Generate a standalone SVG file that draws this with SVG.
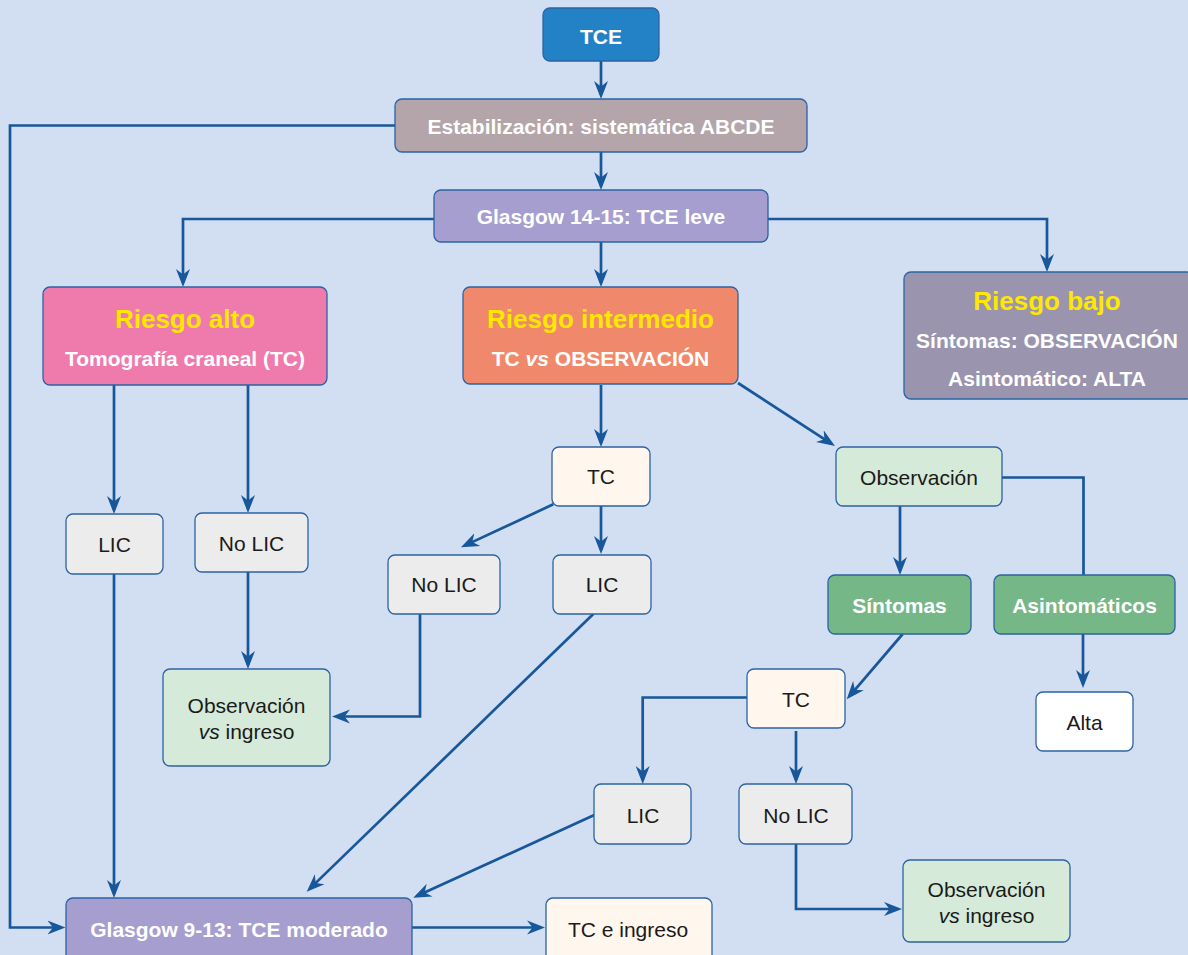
<svg xmlns="http://www.w3.org/2000/svg" width="1188" height="955" viewBox="0 0 1188 955">
<defs>
<marker id="ah" markerUnits="userSpaceOnUse" markerWidth="22" markerHeight="18" viewBox="0 -9 22 18" refX="14" refY="0" orient="auto">
<path d="M18,0 L0,-7 L5.5,0 L0,7 Z" fill="#17579A"/>
</marker>
<style>
.n { stroke:#2B63A4; stroke-width:1.3; }
.b { font-family:'Liberation Sans',Arial,sans-serif; font-weight:bold; font-size:21px; fill:#fff; text-anchor:middle; }
.r { font-family:'Liberation Sans',Arial,sans-serif; font-size:21px; fill:#1a1a1a; text-anchor:middle; }
.t { font-family:'Liberation Sans',Arial,sans-serif; font-weight:bold; font-size:26px; fill:#FFE800; text-anchor:middle; }
.s { font-family:'Liberation Sans',Arial,sans-serif; font-weight:bold; font-size:21px; fill:#fff; text-anchor:middle; }
.c { fill:none; stroke:#17579A; stroke-width:2.7; }
.a { marker-end:url(#ah); }
</style>
</defs>
<rect width="1188" height="955" fill="#D2DEF1"/>

<g id="connectors">
<path class="c a" d="M601,61 V95"/>
<path class="c a" d="M601,152 V186"/>
<path class="c a" d="M395,125.5 H10 V927.5 H61.5"/>
<path class="c a" d="M434,219 H183 V283"/>
<path class="c a" d="M601,242 V283"/>
<path class="c a" d="M768,219 H1047 V268"/>
<path class="c a" d="M114,385 V510"/>
<path class="c a" d="M248,385 V509"/>
<path class="c a" d="M114,574 V894"/>
<path class="c a" d="M248,572 V665"/>
<path class="c a" d="M601,385 V443"/>
<path class="c a" d="M738,383 L831.6,443.8"/>
<path class="c a" d="M553.3,504.3 L464.6,545.6"/>
<path class="c a" d="M601,506 V550"/>
<path class="c a" d="M420,614 V716.5 H336"/>
<path class="c a" d="M593.3,614 L309.6,888.9"/>
<path class="c a" d="M900,506 V571"/>
<path class="c" d="M1002,477.5 H1083.5 V575"/>
<path class="c a" d="M902.7,634 L849.3,696.3"/>
<path class="c a" d="M747,697.5 H642.7 V780"/>
<path class="c a" d="M796,731 V780"/>
<path class="c a" d="M594.3,815 L416.9,896"/>
<path class="c a" d="M796,844 V909 H898"/>
<path class="c a" d="M1083,634 V684"/>
<path class="c a" d="M412,927.5 H541"/>
</g>

<g id="n-tce"><rect class="n" x="543" y="8" width="116" height="53" rx="7" fill="#2382C6"/><text class="b" x="601" y="44">TCE</text></g>
<g id="n-estab"><rect class="n" x="395" y="99" width="412" height="53" rx="7" fill="#B3A5A9"/><text class="b" x="601" y="134">Estabilización: sistemática ABCDE</text></g>
<g id="n-glasgow1415"><rect class="n" x="434" y="190" width="334" height="52" rx="7" fill="#A69ECF"/><text class="b" x="601" y="224">Glasgow 14-15: TCE leve</text></g>

<g id="n-riesgo-alto"><rect class="n" x="43" y="287" width="284" height="98" rx="7" fill="#EE7BAC"/>
<text class="t" x="185" y="328">Riesgo alto</text>
<text class="s" x="185" y="366">Tomografía craneal (TC)</text></g>

<g id="n-riesgo-intermedio"><rect class="n" x="463" y="287" width="275" height="97" rx="7" fill="#F0896B"/>
<text class="t" x="600.5" y="328">Riesgo intermedio</text>
<text class="s" x="600.5" y="366">TC <tspan font-style="italic">vs</tspan> OBSERVACIÓN</text></g>

<g id="n-riesgo-bajo"><rect class="n" x="904" y="272" width="290" height="127" rx="7" fill="#9A94AE"/>
<text class="t" x="1047" y="310">Riesgo bajo</text>
<text class="s" x="1047" y="348">Síntomas: OBSERVACIÓN</text>
<text class="s" x="1047" y="386">Asintomático: ALTA</text></g>

<g id="n-tc1"><rect class="n" x="552" y="447" width="98" height="59" rx="7" fill="#FFF6EE"/><text class="r" x="601" y="484">TC</text></g>
<g id="n-obs1"><rect class="n" x="836" y="447" width="166" height="59" rx="7" fill="#D5EAD8"/><text class="r" x="919" y="485">Observación</text></g>

<g id="n-lic1"><rect class="n" x="66" y="514" width="97" height="60" rx="7" fill="#ECECEC"/><text class="r" x="114.5" y="552">LIC</text></g>
<g id="n-nolic1"><rect class="n" x="195" y="513" width="113" height="59" rx="7" fill="#ECECEC"/><text class="r" x="251.5" y="551">No LIC</text></g>
<g id="n-nolic2"><rect class="n" x="388" y="555" width="112" height="59" rx="7" fill="#ECECEC"/><text class="r" x="444" y="592">No LIC</text></g>
<g id="n-lic2"><rect class="n" x="553" y="555" width="98" height="59" rx="7" fill="#ECECEC"/><text class="r" x="602" y="592">LIC</text></g>

<g id="n-sintomas"><rect class="n" x="828" y="575" width="143" height="59" rx="7" fill="#75B787"/><text class="b" x="899.5" y="613">Síntomas</text></g>
<g id="n-asintomaticos"><rect class="n" x="994" y="575" width="181" height="59" rx="7" fill="#75B787"/><text class="b" x="1084.5" y="613">Asintomáticos</text></g>

<g id="n-obs-ingreso1"><rect class="n" x="163" y="669" width="167" height="97" rx="7" fill="#D5EAD8"/>
<text class="r" x="246.5" y="713">Observación</text>
<text class="r" x="246.5" y="739"><tspan font-style="italic">vs</tspan> ingreso</text></g>

<g id="n-tc2"><rect class="n" x="747" y="669" width="98" height="59" rx="7" fill="#FFF6EE"/><text class="r" x="796" y="707">TC</text></g>
<g id="n-alta"><rect class="n" x="1036" y="692" width="97" height="59" rx="7" fill="#FFFFFF"/><text class="r" x="1084.5" y="730">Alta</text></g>

<g id="n-lic3"><rect class="n" x="594" y="784" width="97" height="60" rx="7" fill="#ECECEC"/><text class="r" x="643" y="823">LIC</text></g>
<g id="n-nolic3"><rect class="n" x="739" y="784" width="113" height="60" rx="7" fill="#ECECEC"/><text class="r" x="796" y="823">No LIC</text></g>

<g id="n-obs-ingreso2"><rect class="n" x="903" y="860" width="167" height="82" rx="7" fill="#D5EAD8"/>
<text class="r" x="986.5" y="897">Observación</text>
<text class="r" x="986.5" y="923"><tspan font-style="italic">vs</tspan> ingreso</text></g>

<g id="n-glasgow913"><rect class="n" x="66" y="898" width="346" height="70" rx="7" fill="#A69ECF"/><text class="b" x="239" y="937">Glasgow 9-13: TCE moderado</text></g>
<g id="n-tc-ingreso"><rect class="n" x="546" y="898" width="166" height="70" rx="7" fill="#FFF6EE"/><text class="r" x="628" y="937">TC e ingreso</text></g>
</svg>
